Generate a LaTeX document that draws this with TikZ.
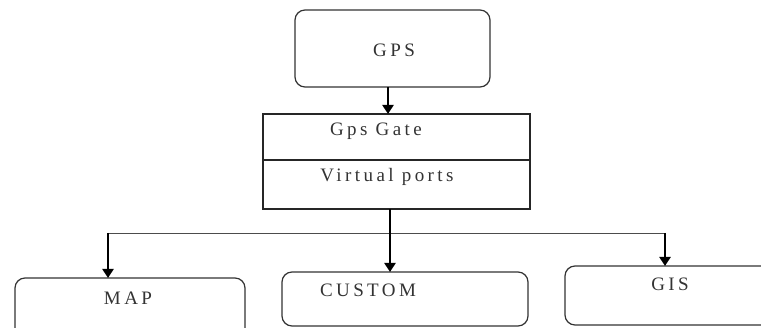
\documentclass[tikz,border=0pt]{standalone}
\usepackage{fontspec}
\setmainfont{Liberation Serif}[LetterSpace=18]
\usetikzlibrary{arrows.meta}
\begin{document}
\begin{tikzpicture}[x=1pt,y=-1pt,
  rbox/.style={draw=black!80,line width=1.2pt,rounded corners=10pt},
  sbox/.style={draw=black!85,line width=1.2pt},
  txt/.style={font=\fontsize{19}{22}\selectfont,text=black!80,inner sep=0pt},
  arr/.style={line width=2.2pt,-{Triangle[length=9pt,width=11pt]}},
  thin/.style={draw=black!70,line width=0.8pt}]
\useasboundingbox (0,0) rectangle (761,328);
\clip (0,0) rectangle (761,328);
\fill[white] (0,0) rectangle (761,328);
% GPS
\draw[rbox] (295,10) rectangle (490,87);
\node[txt] (gps) at (394,50) {GPS};
\coordinate (gpsb) at (388,87);
% Gate
\draw[sbox] (263,114) rectangle (530,209);
\draw[sbox] (263,160) -- (530,160);
\coordinate (gatet) at (388,114);
\coordinate (gateb) at (390,209);
\node[txt] (gate) at (376,131) {Gps Gate};
\node[txt] (vp) at (387,177) {Virtual ports};
\draw[arr] (gpsb) -- (gatet);
% distribution
\coordinate (hl) at (108,233);
\coordinate (hm) at (390,233);
\coordinate (hr) at (665,233);
\draw[thin] (hl) -- (hr);
\draw[line width=2.2pt] (gateb) -- (hm);
% bottom boxes
\draw[rbox] (15,278) rectangle (245,345);
\node[txt] (map) at (128,298) {MAP};
\draw[rbox] (282,272) rectangle (528,326);
\node[txt] (custom) at (368,290) {CUSTOM};
\draw[rbox] (565,266) rectangle (790,325);
\node[txt] (gis) at (670,284) {GIS};
\coordinate (mapt) at (108,278);
\coordinate (custt) at (390,272);
\coordinate (gist) at (665,266);
\draw[arr] (hl) -- (mapt);
\draw[arr] (hm) -- (custt);
\draw[arr] (hr) -- (gist);
\end{tikzpicture}
\end{document}
